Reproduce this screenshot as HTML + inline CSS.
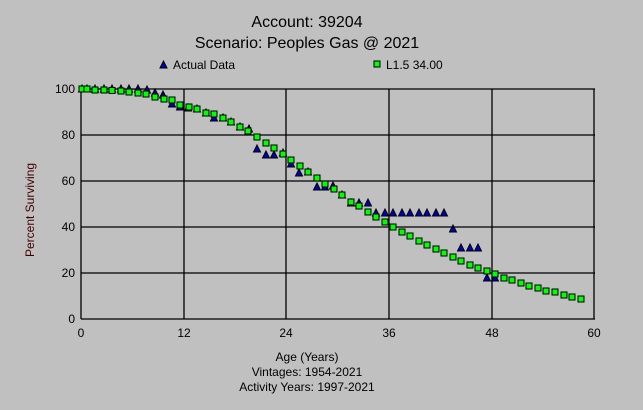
<!DOCTYPE html>
<html><head><meta charset="utf-8"><style>
body{margin:0;background:#c0c0c0;}
svg{display:block;font-family:"Liberation Sans",Arial,sans-serif;}
</style></head><body>
<svg id="s" width="643" height="410" viewBox="0 0 643 410" xmlns="http://www.w3.org/2000/svg">
<rect width="643" height="410" fill="#c0c0c0"/>
<text x="307" y="27" font-size="16" text-anchor="middle">Account: 39204</text>
<text x="307" y="48" font-size="16" text-anchor="middle">Scenario: Peoples Gas @ 2021</text>
<polygon points="160,68 163.5,61 167,68" fill="#0000c0" stroke="#000" stroke-width="1"/>
<text x="173" y="69" font-size="12">Actual Data</text>
<rect x="374" y="61" width="6" height="6" fill="#00ff00" stroke="#000"/>
<text x="386" y="69" font-size="12">L1.5 34.00</text>
<g stroke="#000" stroke-width="1.3">
<line x1="81" y1="89" x2="595" y2="89"/><line x1="81" y1="135" x2="595" y2="135"/>
<line x1="81" y1="181" x2="595" y2="181"/><line x1="81" y1="227" x2="595" y2="227"/>
<line x1="81" y1="273" x2="595" y2="273"/><line x1="81" y1="319" x2="595" y2="319"/>
<line x1="81" y1="89" x2="81" y2="319"/><line x1="184" y1="89" x2="184" y2="319"/>
<line x1="286" y1="89" x2="286" y2="319"/><line x1="389" y1="89" x2="389" y2="319"/>
<line x1="492" y1="89" x2="492" y2="319"/><line x1="594" y1="89" x2="594" y2="319"/>
</g>
<g font-size="12" text-anchor="end">
<text x="75" y="93">100</text><text x="75" y="139">80</text><text x="75" y="185">60</text>
<text x="75" y="231">40</text><text x="75" y="277">20</text><text x="75" y="323">0</text>
</g>
<g font-size="12" text-anchor="middle">
<text x="81" y="337">0</text><text x="184" y="337">12</text><text x="286" y="337">24</text>
<text x="389" y="337">36</text><text x="492" y="337">48</text><text x="594" y="337">60</text>
<text x="307" y="361">Age (Years)</text>
<text x="307" y="376">Vintages: 1954-2021</text>
<text x="307" y="391">Activity Years: 1997-2021</text>
</g>
<text transform="translate(34,210) rotate(-90)" font-size="12" text-anchor="middle" fill="#400000">Percent Surviving</text>
<g id="tri"></g><g id="sq"></g>
</svg>
<script>
var ns="http://www.w3.org/2000/svg";
var T=[[82,89],[87,89],[95,89],[104,89],[112,89],[121,89],[129,89],[138,89],[147,90],[155,93],[163,95],[172,104],[180,107],[188,108],[197,109],[206,113],[214,118],[223,118],[231,122],[240,127],[249,129],[257,149],[266,155],[274,155],[283,153],[291,164],[299,173],[308,172],[317,187],[325,187],[333,186],[342,195],[351,203],[359,203],[368,203],[376,213],[385,213],[393,213],[402,213],[410,213],[419,213],[427,213],[436,213],[444,213],[453,229],[461,248],[470,248],[478,248],[487,278],[495,278]];
var G=[[82,89],[87,89],[95,90],[104,90],[112,90.5],[121,91],[129,92],[138,93],[146,94],[155,97],[164,99],[172,100],[180,105],[189,107],[197,109],[206,113],[214,114],[223,118],[231,122],[240,127],[248,131],[257,137],[266,143],[274,148],[283,154],[291,160],[300,166],[308,172],[317,178],[325,184],[334,189],[342,195],[351,202],[359,206],[368,212],[376,217],[385,222],[393,227],[402,232],[410,236],[419,241],[427,245],[436,249],[444,253],[453,257],[461,261],[470,265],[478,268],[487,271],[495,274],[504,278],[512,280],[521,283],[529,286],[538,288],[546,291],[555,292],[564,295],[572,297],[581,299]];
var tg=document.getElementById("tri"),sg=document.getElementById("sq");
T.forEach(function(p){var e=document.createElementNS(ns,"polygon");e.setAttribute("points",(p[0]-3.5)+","+(p[1]+3)+" "+p[0]+","+(p[1]-4)+" "+(p[0]+3.5)+","+(p[1]+3));e.setAttribute("fill","#0000c0");e.setAttribute("stroke","#000");e.setAttribute("stroke-width","1");tg.appendChild(e);});
G.forEach(function(p){var e=document.createElementNS(ns,"rect");e.setAttribute("x",p[0]-3);e.setAttribute("y",p[1]-3);e.setAttribute("width",6);e.setAttribute("height",6);e.setAttribute("fill","#00ff00");e.setAttribute("stroke","#000");e.setAttribute("stroke-width","1");sg.appendChild(e);});
</script>
</body></html>
